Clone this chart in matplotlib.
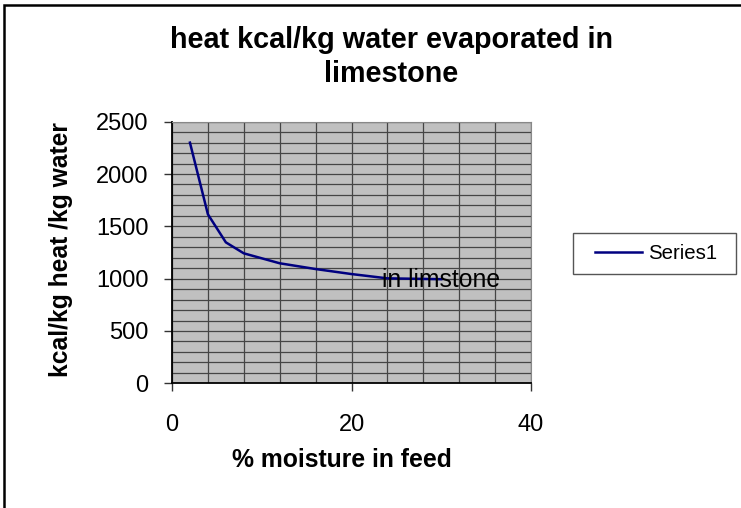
import numpy as np
import matplotlib.pyplot as plt
from matplotlib.patches import Rectangle

plt.rcParams['font.family'] = ['Liberation Sans', 'DejaVu Sans']

moisture = [2, 4, 6, 8, 12, 16, 20, 24, 30]
heat = [2300, 1615, 1347, 1242, 1147, 1092, 1044, 1003, 995]
series_name = 'Series1'
title_lines = ['heat kcal/kg water evaporated in', 'limestone']
xlabel = '% moisture in feed'
ylabel = 'kcal/kg heat /kg water'
note = 'in limstone'

W, H = 741, 508
fig = plt.figure(figsize=(W / 100, H / 100), dpi=100)
ax = fig.add_axes([172 / W, 1 - 383.3 / H, 359 / W, 261.6 / H])
ax.set_facecolor('#c0c0c0')

# outer chart border
fig.patches.append(Rectangle((4 / W, -0.05), 1.1, 1 - 5 / H + 0.05, transform=fig.transFigure,
                             fill=False, edgecolor='black', linewidth=1.8))

ax.plot(moisture, heat, color='#000080', linewidth=1.8, label=series_name, zorder=3)

ax.set_xlim(0, 40)
ax.set_ylim(0, 2500)
ax.set_xticks([0, 20, 40])
ax.set_yticks(np.arange(0, 2501, 500))
ax.set_xticks(np.arange(0, 41, 4), minor=True)
ax.set_yticks(np.arange(0, 2501, 100), minor=True)
ax.grid(True, which='both', color='#454545', linewidth=0.9)
ax.set_axisbelow(True)
ax.tick_params(which='minor', length=0)
ax.tick_params(which='major', direction='out', length=6, width=1, labelsize=17, color='#333333')
ax.tick_params(axis='x', pad=16)
ax.tick_params(axis='y', pad=11)

for side in ['top', 'right']:
    ax.spines[side].set_color('#888888')
for side in ['left', 'bottom']:
    ax.spines[side].set_color('black')
    ax.spines[side].set_linewidth(1.3)

fig.text(342 / W, 1 - 467 / H, xlabel, ha='center', va='baseline', fontsize=17.8, fontweight='bold')
fig.text(61 / W, 1 - 250 / H, ylabel, ha='center', va='center', rotation=90,
         fontsize=17.7, fontweight='bold')
fig.text(391.5 / W, 1 - 48 / H, title_lines[0], ha='center', va='baseline', fontsize=20.7,
         fontweight='bold')
fig.text(391.5 / W, 1 - 81.7 / H, title_lines[1], ha='center', va='baseline', fontsize=20.7,
         fontweight='bold')

ax.text(23.4, 920, note, fontsize=17.8, va='baseline', ha='left', zorder=4)

# legend
fig.patches.append(Rectangle((573 / W, 1 - 274 / H), 163 / W, 41.3 / H, transform=fig.transFigure,
                             fill=False, edgecolor='#555555', linewidth=1.0))
ax.legend(loc='center left', bbox_to_anchor=(595 / W, 1 - 253.3 / H), bbox_transform=fig.transFigure,
          fontsize=14.7, frameon=False, handlelength=2.3, handletextpad=0.3, borderpad=0,
          borderaxespad=0)

fig.savefig('out.png', dpi=100)
